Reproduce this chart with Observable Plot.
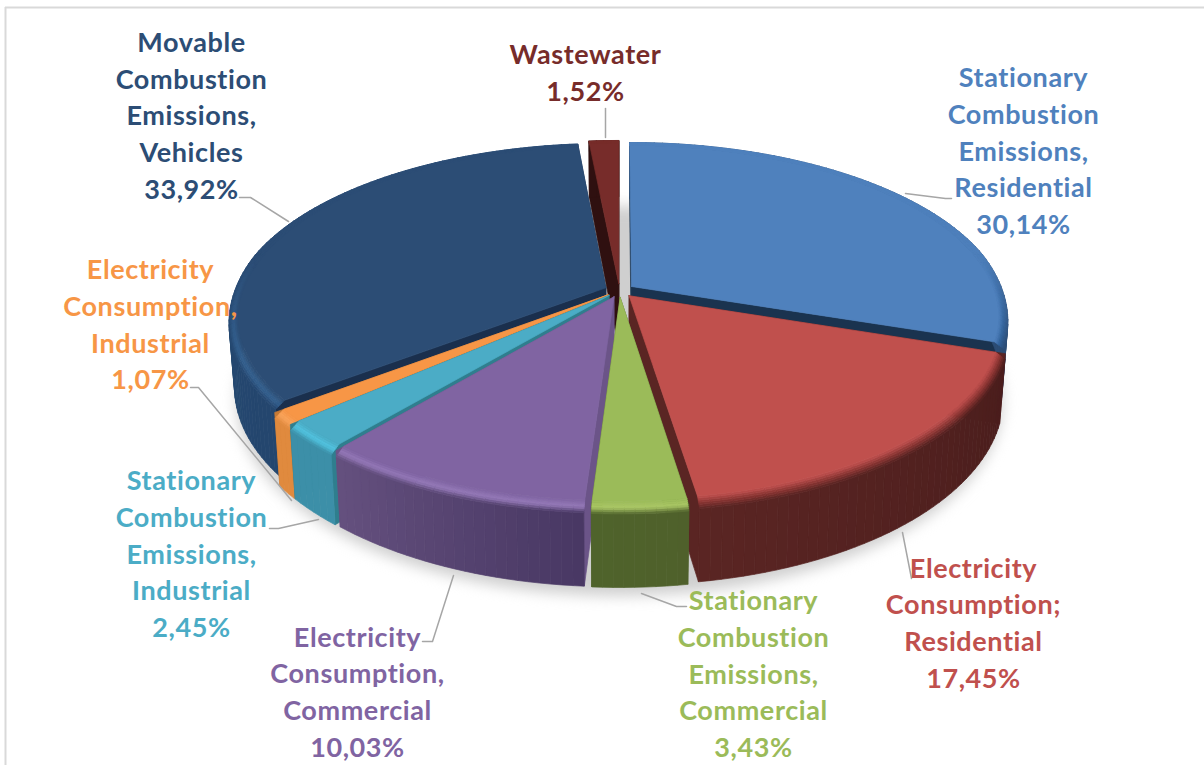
<!DOCTYPE html>
<html>
<head>
<meta charset="utf-8">
<style>
  html, body { margin: 0; padding: 0; background: #fff; overflow: hidden; }
  svg { display: block; }
  svg text { font-variant-ligatures: none; letter-spacing: 0.6px; }
</style>
<script src="https://cdn.jsdelivr.net/npm/d3@7"></script>
<script src="https://cdn.jsdelivr.net/npm/@observablehq/plot@0.6"></script>
</head>
<body>
<div id="chart"></div>
<script>
// Emission shares, clockwise from twelve o'clock
const categories = [
  "Stationary\nCombustion\nEmissions,\nResidential",
  "Electricity\nConsumption;\nResidential",
  "Stationary\nCombustion\nEmissions,\nCommercial",
  "Electricity\nConsumption,\nCommercial",
  "Stationary\nCombustion\nEmissions,\nIndustrial",
  "Electricity\nConsumption,\nIndustrial",
  "Movable\nCombustion\nEmissions,\nVehicles",
  "Wastewater"
];
const shares = [30.14, 17.45, 3.43, 10.03, 2.45, 1.07, 33.92, 1.52];

// Colours per slice: top face, bevel highlight, side wall, outer rim at each end
const topColors   = ["#4f81bd", "#c0504d", "#9bbb59", "#8064a2", "#4bacc6", "#f79646", "#2c4d75", "#772c2a"];
const bevelColors = ["#2f5f96", "#8a3432", "#aac765", "#9478b8", "#52c4e0", "#f9a45c", "#33608f", "#772c2a"];
const wallColors  = ["#1a334f", "#5a2523", "#4f632b", "#6b5488", "#2f7e8e", "#c77a35", "#1a2f4d", "#2f1010"];
const rimStart    = ["#2c4d75", "#4a1d1c", "#4f602b", "#483763", "#3c8fa8", "#e08a3e", "#24466e", "#2f1010"];
const rimEnd      = ["#2c4d75", "#5a2523", "#4f632b", "#65507f", "#3c8fa8", "#e08a3e", "#264a75", "#2f1010"];

// Where each label block is centred, with its leader line
const labelX = [1023, 973, 753, 357, 191, 150, 191, 585];
const labelY = [148.5, 620.5, 671.5, 689.5, 551.5, 322, 113, 70.5];
const leaderPaths = [
  [[905, 193], [945, 198], [951, 198]],
  [[902, 532], [911, 578]],
  [[641, 593], [676, 606], [686, 606]],
  [[453, 575], [432, 641], [422, 641]],
  [[318, 519], [278, 528], [269, 528]],
  [[190, 387], [198, 387], [291, 500]],
  [[239, 197], [250, 197], [288, 221]],
  [[605, 108], [605, 137]]
];

// Camera used to lay the exploded disc into the frame
const centre = [619, 290];
const radiusX = 372, radiusY = 170.6, foreshorten = 0.1756;
const explode = 0.04, dropPx = 66, dropGrow = 0.064, dropShrink = 0.015;

function project(theta, r, phi, e, h) {
  const X = r * Math.sin(theta) + e * Math.sin(phi);
  const Y = r * Math.cos(theta) + e * Math.cos(phi);
  const s = 1 / (1 + foreshorten * Y);
  const px = radiusX * X * s;
  const py = -radiusY * Y * s;
  return [
    centre[0] + px * (1 - dropShrink * h),
    centre[1] + py * (1 + dropGrow * h) + dropPx * h
  ];
}

const total = d3.sum(shares);
let running = 0;
const slices = shares.map((v, i) => {
  const a0 = running / total * 2 * Math.PI;
  running += v;
  const a1 = running / total * 2 * Math.PI;
  return {i, a0, a1, phi: (a0 + a1) / 2};
});

const polys = [];
function addPoly(points, fill) {
  const id = polys.length;
  // closed ring, so the stroke seals every edge against its neighbour
  polys.push([...points, points[0]].map(([x, y]) => ({id, x, y, fill})));
}

const bevelInner = 0.975, bevelDepth = 0.08, bevelBands = 6;
// The rounded edge only shows toward the viewer; it flattens out along the back
const bevelWeight = t => Math.max(0, Math.min(1, (0.2 - Math.cos(t)) / 0.5));
const toHex = c => d3.color(c).formatHex();

// Back slices first so the nearer ones overlap them
const paintOrder = [7, 6, 0, 5, 4, 3, 1, 2];
for (const i of paintOrder) {
  const s = slices[i];
  const steps = Math.max(2, Math.ceil((s.a1 - s.a0) / (Math.PI / 120)));
  const angle = k => s.a0 + (s.a1 - s.a0) * k / steps;

  // radial side walls
  for (const t of [s.a0, s.a1]) {
    addPoly([
      project(t, 0, s.phi, explode, 0),
      project(t, 1, s.phi, explode, 0),
      project(t, 1, s.phi, explode, 1),
      project(t, 0, s.phi, explode, 1)
    ], wallColors[i]);
  }

  // outer rim, shaded along the arc
  const shade = d3.interpolateRgb(rimStart[i], rimEnd[i]);
  for (let k = 0; k < steps; k++) {
    const t0 = angle(k), t1 = angle(k + 1);
    addPoly([
      project(t0, 1, s.phi, explode, bevelDepth * bevelWeight(t0)),
      project(t1, 1, s.phi, explode, bevelDepth * bevelWeight(t1)),
      project(t1, 1, s.phi, explode, 1),
      project(t0, 1, s.phi, explode, 1)
    ], toHex(shade((k + 0.5) / steps)));
  }

  // rounded edge between rim and top face
  for (let k = 0; k < steps; k++) {
    const t0 = angle(k), t1 = angle(k + 1);
    const w = bevelWeight((t0 + t1) / 2);
    const rimCol = shade((k + 0.5) / steps);
    for (let b = bevelBands - 1; b >= 0; b--) {
      const f0 = b / bevelBands, f1 = (b + 1) / bevelBands;
      const r0 = bevelInner + (1 - bevelInner) * f0, r1 = bevelInner + (1 - bevelInner) * f1;
      const f = (f0 + f1) / 2;
      const raw = f < 0.5
        ? d3.interpolateRgb(topColors[i], bevelColors[i])(f * 2)
        : d3.interpolateRgb(bevelColors[i], rimCol)((f - 0.5) * 2);
      addPoly([
        project(t0, r0, s.phi, explode, bevelDepth * f0 * bevelWeight(t0)),
        project(t1, r0, s.phi, explode, bevelDepth * f0 * bevelWeight(t1)),
        project(t1, r1, s.phi, explode, bevelDepth * f1 * bevelWeight(t1)),
        project(t0, r1, s.phi, explode, bevelDepth * f1 * bevelWeight(t0))
      ], toHex(d3.interpolateRgb(topColors[i], raw)(w)));
    }
  }

  // top face
  addPoly([
    project(s.phi, 0, s.phi, explode, 0),
    ...d3.range(steps + 1).map(k => project(angle(k), bevelInner, s.phi, explode, 0))
  ], topColors[i]);
}

const pieRows = polys.flat();

// Soft ground shadow under the whole disc
const shadowRows = d3.range(0, 361, 3).map(d => {
  const [x, y] = project(d * Math.PI / 180, 1.03, 0, 0, 1.14);
  return {x, y};
});

const labelRows = categories.map((c, i) => ({
  text: `${c}\n${shares[i].toFixed(2).replace(".", ",")}%`,
  x: labelX[i], y: labelY[i], color: topColors[i]
}));
const leaderRows = leaderPaths.flatMap((p, i) => p.map(([x, y]) => ({i, x, y})));

const chart = Plot.plot({
  width: 1204,
  height: 765,
  margin: 0,
  axis: null,
  x: {domain: [0, 1204], range: [0, 1204]},
  y: {domain: [0, 765], range: [0, 765]},
  color: {type: "identity"},
  style: {background: "#fff", fontFamily: "Lato, sans-serif"},
  marks: [
    Plot.ruleY([7], {x1: 5, x2: 1204, stroke: "#d9d9d9", strokeWidth: 2}),
    Plot.ruleX([5], {y1: 7, y2: 765, stroke: "#d9d9d9", strokeWidth: 2}),
    Plot.line(shadowRows, {x: "x", y: "y", fill: "#cfcfcf", stroke: "none", imageFilter: "blur(7px)"}),
    Plot.line(pieRows, {x: "x", y: "y", z: "id", fill: "fill", stroke: "fill", strokeWidth: 0.7}),
    Plot.line(leaderRows, {x: "x", y: "y", z: "i", stroke: "#a6a6a6", strokeWidth: 1.5}),
    Plot.text(labelRows, {
      x: "x", y: "y", text: "text", fill: "color",
      fontSize: 27, fontWeight: 700, lineHeight: 1.36,
      textAnchor: "middle", lineAnchor: "middle"
    })
  ]
});
document.getElementById("chart").append(chart);
</script>
</body>
</html>
